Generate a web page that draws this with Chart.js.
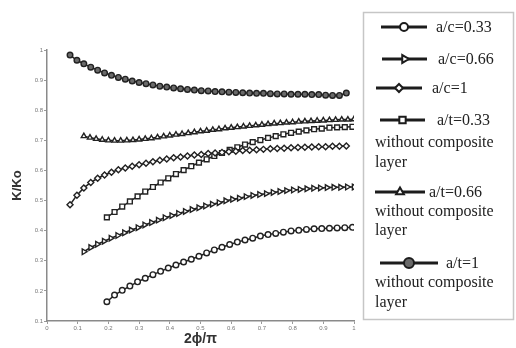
<!DOCTYPE html>
<html>
<head>
<meta charset="utf-8">
<script src="https://cdn.jsdelivr.net/npm/chart.js@4.4.0/dist/chart.umd.min.js"></script>
<style>
  html, body { margin: 0; padding: 0; background: #fff; }
  #wrap { width: 516px; height: 348px; }
</style>
</head>
<body>
<div id="wrap"><canvas id="kChart" width="516" height="348"></canvas></div>
<script>
// normalised angle 2phi/pi for each curve
const phiNarrow = [0.195, 0.22, 0.245, 0.27, 0.295, 0.32, 0.345, 0.37, 0.395, 0.42, 0.445, 0.47, 0.495, 0.52, 0.545, 0.57, 0.595, 0.62, 0.645, 0.67, 0.695, 0.72, 0.745, 0.77, 0.795, 0.82, 0.845, 0.87, 0.895, 0.92, 0.945, 0.97, 0.995];
const phiMid = [0.12, 0.142, 0.164, 0.186, 0.208, 0.23, 0.252, 0.274, 0.296, 0.318, 0.34, 0.362, 0.384, 0.406, 0.428, 0.45, 0.472, 0.494, 0.516, 0.538, 0.56, 0.582, 0.604, 0.626, 0.648, 0.67, 0.692, 0.714, 0.736, 0.758, 0.78, 0.802, 0.824, 0.846, 0.868, 0.89, 0.912, 0.934, 0.956, 0.978, 1.0];
const phiWide = [0.075, 0.0975, 0.12, 0.1425, 0.165, 0.1875, 0.21, 0.2325, 0.255, 0.2775, 0.3, 0.3225, 0.345, 0.3675, 0.39, 0.4125, 0.435, 0.4575, 0.48, 0.5025, 0.525, 0.5475, 0.57, 0.5925, 0.615, 0.6375, 0.66, 0.6825, 0.705, 0.7275, 0.75, 0.7725, 0.795, 0.8175, 0.84, 0.8625, 0.885, 0.9075, 0.93, 0.9525, 0.975];
const phiDense = [0.12, 0.14, 0.16, 0.18, 0.2, 0.22, 0.24, 0.26, 0.28, 0.3, 0.32, 0.34, 0.36, 0.38, 0.4, 0.42, 0.44, 0.46, 0.48, 0.5, 0.52, 0.54, 0.56, 0.58, 0.6, 0.62, 0.64, 0.66, 0.68, 0.7, 0.72, 0.74, 0.76, 0.78, 0.8, 0.82, 0.84, 0.86, 0.88, 0.9, 0.92, 0.94, 0.96, 0.98, 1.0];

// K/Ko values
const kAc033 = [0.164, 0.186, 0.202, 0.216, 0.230, 0.242, 0.254, 0.265, 0.276, 0.286, 0.296, 0.305, 0.315, 0.326, 0.336, 0.345, 0.354, 0.362, 0.369, 0.375, 0.382, 0.387, 0.391, 0.395, 0.399, 0.401, 0.404, 0.406, 0.407, 0.408, 0.409, 0.410, 0.411];
const kAc066 = [0.330, 0.344, 0.355, 0.365, 0.375, 0.384, 0.393, 0.402, 0.410, 0.419, 0.427, 0.435, 0.443, 0.450, 0.457, 0.464, 0.470, 0.476, 0.482, 0.488, 0.493, 0.499, 0.504, 0.508, 0.513, 0.517, 0.520, 0.523, 0.527, 0.530, 0.533, 0.535, 0.537, 0.539, 0.541, 0.542, 0.543, 0.544, 0.544, 0.545, 0.545];
const kAc1 = [0.486, 0.518, 0.542, 0.560, 0.574, 0.585, 0.594, 0.602, 0.608, 0.614, 0.619, 0.624, 0.629, 0.634, 0.638, 0.642, 0.645, 0.648, 0.651, 0.653, 0.656, 0.658, 0.660, 0.662, 0.664, 0.666, 0.667, 0.669, 0.670, 0.672, 0.673, 0.674, 0.675, 0.676, 0.677, 0.678, 0.679, 0.679, 0.680, 0.680, 0.681];
const kAt033 = [0.444, 0.462, 0.480, 0.497, 0.514, 0.530, 0.545, 0.560, 0.574, 0.588, 0.601, 0.614, 0.626, 0.637, 0.648, 0.658, 0.668, 0.677, 0.686, 0.694, 0.701, 0.708, 0.714, 0.720, 0.725, 0.729, 0.733, 0.737, 0.739, 0.742, 0.743, 0.744, 0.745];
const kAt066 = [0.714, 0.709, 0.705, 0.702, 0.700, 0.699, 0.699, 0.700, 0.701, 0.703, 0.705, 0.707, 0.710, 0.713, 0.716, 0.719, 0.721, 0.724, 0.727, 0.730, 0.732, 0.735, 0.737, 0.740, 0.742, 0.744, 0.746, 0.748, 0.750, 0.752, 0.754, 0.756, 0.757, 0.759, 0.760, 0.762, 0.763, 0.764, 0.765, 0.766, 0.767, 0.768, 0.769, 0.769, 0.770];
const kAt1 = [0.983, 0.966, 0.954, 0.943, 0.933, 0.924, 0.916, 0.909, 0.903, 0.897, 0.892, 0.888, 0.884, 0.880, 0.877, 0.874, 0.871, 0.869, 0.867, 0.865, 0.864, 0.862, 0.861, 0.860, 0.859, 0.858, 0.857, 0.856, 0.856, 0.855, 0.854, 0.854, 0.853, 0.853, 0.853, 0.852, 0.852, 0.850, 0.849, 0.849, 0.857];

const seriesLabels = ['a/c=0.33', 'a/c=0.66', 'a/c=1', 'a/t=0.33', 'a/t=0.66', 'a/t=1'];
const noteLines = ['without composite', 'layer'];

const xTickValues = [0, 0.1, 0.2, 0.3, 0.4, 0.5, 0.6, 0.7, 0.8, 0.9, 1];
const xTickLabels = ['0', '0.1', '0.2', '0.3', '0.4', '0.5', '0.6', '0.7', '0.8', '0.9', '1'];
const yTickValues = [0.1, 0.2, 0.3, 0.4, 0.5, 0.6, 0.7, 0.8, 0.9, 1];
const yTickLabels = ['0.1', '0.2', '0.3', '0.4', '0.5', '0.6', '0.7', '0.8', '0.9', '1'];

const INK = '#222';

function points(xs, ys) {
  return xs.map((x, i) => ({ x, y: ys[i] }));
}

function series(label, xs, ys, style) {
  return Object.assign({
    label,
    data: points(xs, ys),
    borderColor: INK,
    borderWidth: 1.5,
    pointBorderColor: INK,
    pointBackgroundColor: '#fff',
    pointBorderWidth: 1.4,
    pointRadius: 3,
    showLine: true,
    tension: 0,
  }, style);
}

const datasets = [
  series(seriesLabels[0], phiNarrow, kAc033, { pointStyle: 'circle', pointRadius: 2.8 }),
  series(seriesLabels[1], phiMid, kAc066, { pointStyle: 'triangle', pointRotation: 90, pointRadius: 3.2 }),
  series(seriesLabels[2], phiWide, kAc1, { pointStyle: 'rectRot', pointRadius: 3 }),
  series(seriesLabels[3], phiNarrow, kAt033, { pointStyle: 'rect', pointRadius: 3.4 }),
  series(seriesLabels[4], phiDense, kAt066, { pointStyle: 'triangle', pointRadius: 3 }),
  series(seriesLabels[5], phiWide, kAt1, { pointStyle: 'circle', pointRadius: 2.8, pointBackgroundColor: '#6a6a6a' }),
];

// legend rows: sample line span, row centre, text start, marker size
const legendRows = [
  { y: 27, x1: 381, x2: 427, tx: 436, r: 4 },
  { y: 59, x1: 382, x2: 427, tx: 438, r: 4.5 },
  { y: 88, x1: 376, x2: 422, tx: 432, r: 4 },
  { y: 120, x1: 380, x2: 425, tx: 437, r: 4.5, note: [143, 163] },
  { y: 192, x1: 375, x2: 425, tx: 429, r: 4.5, note: [212, 231] },
  { y: 263, x1: 380, x2: 438, tx: 446, r: 5, note: [283, 303] },
];

const legendPanel = {
  id: 'legendPanel',
  afterDraw(chart) {
    const ctx = chart.ctx;
    ctx.save();
    ctx.strokeStyle = '#c6c6c6';
    ctx.lineWidth = 1.5;
    ctx.strokeRect(363.5, 12.5, 150, 307);

    ctx.font = '16px "Liberation Serif", "Times New Roman", serif';
    ctx.textBaseline = 'middle';
    ctx.textAlign = 'left';

    legendRows.forEach((row, i) => {
      const ds = chart.data.datasets[i];
      ctx.strokeStyle = '#1c1c1c';
      ctx.lineWidth = 3;
      ctx.beginPath();
      ctx.moveTo(row.x1, row.y);
      ctx.lineTo(row.x2, row.y);
      ctx.stroke();

      ctx.fillStyle = ds.pointBackgroundColor;
      ctx.strokeStyle = '#1c1c1c';
      ctx.lineWidth = 2;
      Chart.helpers.drawPoint(ctx, {
        pointStyle: ds.pointStyle,
        rotation: ds.pointRotation || 0,
        radius: row.r,
        borderWidth: 2,
      }, (row.x1 + row.x2) / 2, row.y);

      ctx.fillStyle = '#222';
      ctx.fillText(ds.label, row.tx, row.y + 1);
      if (row.note) {
        row.note.forEach((ny, k) => ctx.fillText(noteLines[k], 375, ny));
      }
    });
    ctx.restore();
  },
};

new Chart(document.getElementById('kChart'), {
  type: 'scatter',
  data: { datasets },
  options: {
    responsive: false,
    animation: false,
    layout: { padding: { left: 0, top: 50, right: 162, bottom: 0 } },
    plugins: {
      legend: { display: false },
      tooltip: { enabled: false },
    },
    scales: {
      x: {
        type: 'linear',
        min: 0,
        max: 1,
        afterBuildTicks: (s) => { s.ticks = xTickValues.map((v) => ({ value: v })); },
        afterFit: (s) => { s.height = 27; },
        ticks: {
          callback: (v, i) => xTickLabels[i],
          font: { size: 6, family: 'Arial, "Liberation Sans", sans-serif' },
          color: '#777',
          padding: 1,
          maxRotation: 0,
        },
        grid: { drawOnChartArea: false, tickLength: 3, color: '#999' },
        border: { color: '#8a8a8a', width: 1.5 },
        title: {
          display: true,
          text: '2ϕ/π',
          font: { size: 14, weight: 'bold', family: 'Arial, "Liberation Sans", sans-serif' },
          color: '#333',
          padding: { top: 0, bottom: 0 },
        },
      },
      y: {
        type: 'linear',
        min: 0.1,
        max: 1,
        afterBuildTicks: (s) => { s.ticks = yTickValues.map((v) => ({ value: v })); },
        afterFit: (s) => { s.width = 47; },
        ticks: {
          callback: (v, i) => yTickLabels[i],
          font: { size: 6, family: 'Arial, "Liberation Sans", sans-serif' },
          color: '#777',
          padding: 1,
        },
        grid: { drawOnChartArea: false, tickLength: 3, color: '#999' },
        border: { color: '#8a8a8a', width: 1.5 },
        title: {
          display: true,
          text: 'K/Ko',
          font: { size: 13, weight: 'bold', family: 'Arial, "Liberation Sans", sans-serif' },
          color: '#333',
          padding: { top: 10, bottom: 0 },
        },
      },
    },
  },
  plugins: [legendPanel],
});
</script>
</body>
</html>
